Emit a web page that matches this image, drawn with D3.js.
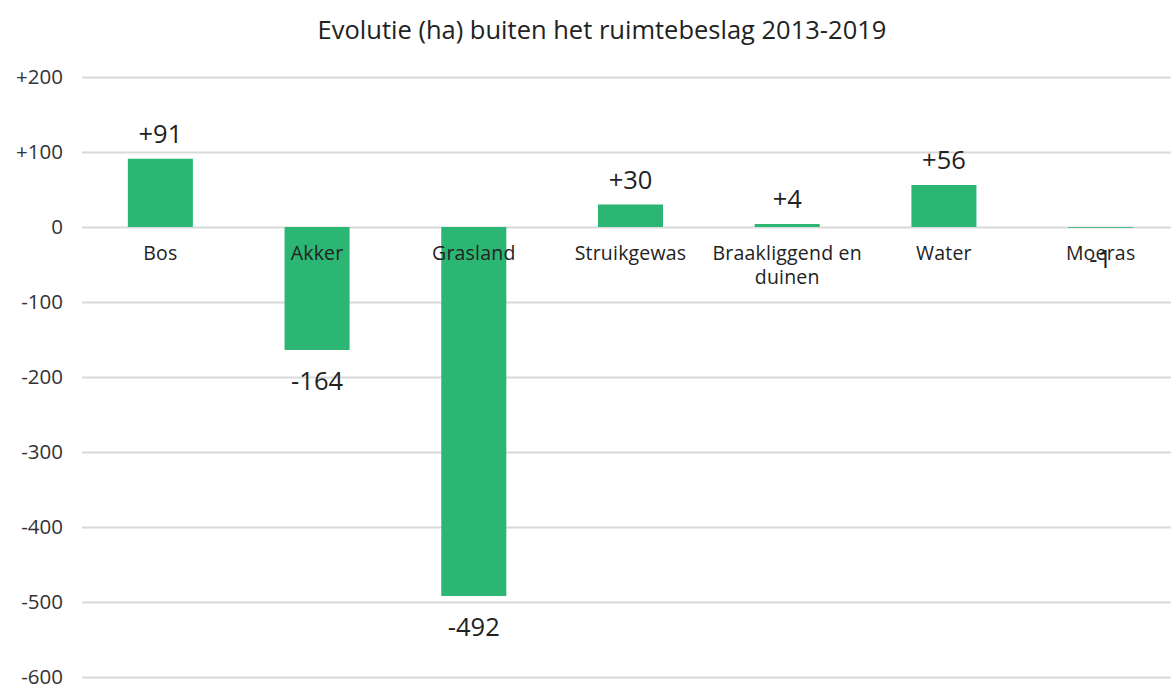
<!DOCTYPE html>
<html><head><meta charset="utf-8">
<script src="https://cdn.jsdelivr.net/npm/d3@7"></script>
<style>body{margin:0;background:#fff;}svg{display:block;font-family:"Open Sans",sans-serif;}</style>
</head><body>
<svg id="c" width="1171" height="686"></svg>
<script>
const categories = ["Bos","Akker","Grasland","Struikgewas","Braakliggend en duinen","Water","Moeras"];
const values = [91,-164,-492,30,4,56,-1];
const yTicks = [200,100,0,-100,-200,-300,-400,-500,-600];
const title = "Evolutie (ha) buiten het ruimtebeslag 2013-2019";

const svg = d3.select("#c");
const x = d3.scaleBand().domain(categories).range([82,1179]).paddingInner(0.585).paddingOuter(0.2925);
const y = d3.scaleLinear().domain([-600,200]).range([677,77]);
const fmt = v => v > 0 ? "+" + v : String(v);
const FONT = "'Open Sans', sans-serif";

svg.append("text").attr("x",602).attr("y",39).attr("text-anchor","middle")
  .attr("font-size",25.5).attr("fill","#222").text(title);

const yAxis = svg.append("g").attr("transform","translate(82,0)")
  .call(d3.axisLeft(y).tickValues(yTicks).tickSize(-1100).tickFormat(fmt));
yAxis.select(".domain").remove();
yAxis.selectAll(".tick line").attr("stroke","#d9d9d9").attr("stroke-width",2);
yAxis.selectAll(".tick text").attr("x",-19).attr("dy","0.34em").attr("font-size",20.5).attr("fill","#333")
  .attr("font-family",FONT);

svg.append("g").selectAll("rect").data(values).join("rect")
  .attr("x",(d,i)=>x(categories[i]))
  .attr("width",x.bandwidth())
  .attr("y",d=>y(Math.max(0,d)))
  .attr("height",d=>Math.abs(y(d)-y(0)))
  .attr("fill","#2bb673");

// category labels
const cat = svg.append("g").selectAll("text").data(categories).join("text")
  .attr("x",d=>x(d)+x.bandwidth()/2).attr("y",260).attr("text-anchor","middle")
  .attr("font-size",19.5).attr("fill","#222").attr("letter-spacing",0.2);
cat.each(function(d){
  const words = d === "Braakliggend en duinen" ? ["Braakliggend en","duinen"] : [d];
  const t = d3.select(this);
  words.forEach((w,k)=>t.append("tspan").attr("x",x(d)+x.bandwidth()/2).attr("dy",k?24:0).text(w));
});

// value labels
svg.append("g").selectAll("text").data(values).join("text")
  .attr("x",(d,i)=>x(categories[i])+x.bandwidth()/2)
  .attr("y",d=> d>=0 ? y(d)-16 : y(d)+40)
  .attr("text-anchor","middle").attr("font-size",25.5).attr("fill","#222")
  .text(fmt);
</script>
</body></html>
